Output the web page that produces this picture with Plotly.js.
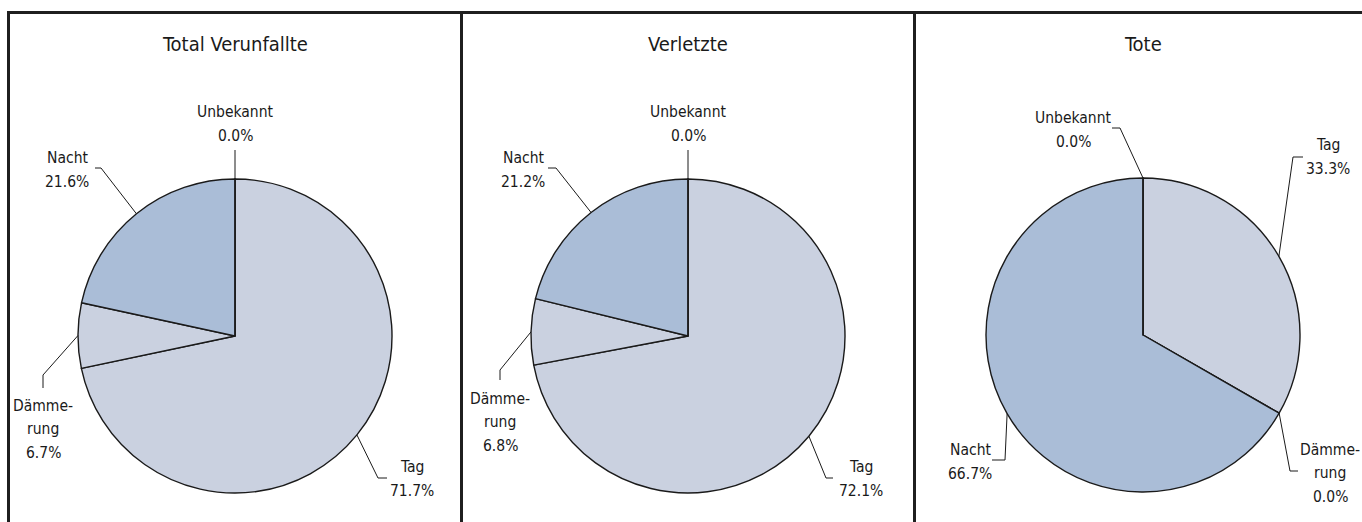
<!DOCTYPE html>
<html>
<head>
<meta charset="utf-8">
<script src="https://cdn.plot.ly/plotly-3.0.1.min.js"></script>
<style>html,body{margin:0;padding:0;background:#fff;}#chart{width:1362px;height:522px;}</style>
</head>
<body>
<div id="chart"></div>
<script>
// ---------- DATA ----------
const categories = ['Tag', 'Dämmerung', 'Nacht', 'Unbekannt'];
const categoryLines = [['Tag'], ['Dämme-', 'rung'], ['Nacht'], ['Unbekannt']];
const panelTitles = ['Total Verunfallte', 'Verletzte', 'Tote'];
const totalVerunfallte = [71.7, 6.7, 21.6, 0.0];
const verletzte = [72.1, 6.8, 21.2, 0.0];
const tote = [33.3, 0.0, 66.7, 0.0];

// ---------- LAYOUT / STYLE ----------
const W = 1362, H = 522, R = 157;
const FONT = 'DejaVu Sans Condensed, Liberation Sans Narrow, sans-serif';
const LABEL_SIZE = 15.5, TITLE_SIZE = 20, LINE_GAP = 23.5;
const sliceColors = ['#cad1e0', '#cad1e0', '#aabdd7', '#cad1e0'];
const panels = [
  {values: totalVerunfallte, cx: 235, cy: 336},
  {values: verletzte, cx: 688, cy: 336},
  {values: tote, cx: 1143, cy: 335}
];
// label placement (px offsets from pie centre): text centre t, elbow e, stub end h
const labelPlacement = [
  [ {t:[177,143], e:[143,142], h:[152,142]},
    {t:[-192,93], e:[-192,39], h:[-192,52]},
    {t:[-168,-166], e:[-134,-168], h:[-140,-168]},
    {t:[0,-212], e:[0,-186], h:[0,-186]} ],
  [ {t:[173,143], e:[138,142], h:[145,142]},
    {t:[-188,86], e:[-188,34], h:[-188,44]},
    {t:[-165,-166], e:[-132,-168], h:[-140,-168]},
    {t:[0,-212], e:[0,-186], h:[0,-186]} ],
  [ {t:[185,-178], e:[150,-178], h:[160,-178]},
    {t:[187,138], e:[147,136], h:[155,136]},
    {t:[-173,127], e:[-138,125], h:[-151,125]},
    {t:[-70,-205], e:[-23,-207], h:[-31,-207]} ]
];

const px = x => x / W;
const py = y => 1 - y / H;

const traces = [];
const annotations = [];
const shapes = [];

panels.forEach((p, i) => {
  traces.push({
    type: 'pie',
    labels: categories,
    values: p.values,
    sort: false,
    direction: 'clockwise',
    rotation: 0,
    textinfo: 'none',
    hoverinfo: 'label+percent',
    marker: {colors: sliceColors, line: {color: '#1a1a1a', width: 1.4}},
    domain: {x: [px(p.cx - R), px(p.cx + R)], y: [py(p.cy + R), py(p.cy - R)]},
    showlegend: false
  });
  annotations.push({
    xref: 'paper', yref: 'paper', x: px(p.cx), y: py(44),
    text: panelTitles[i], showarrow: false, xanchor: 'center', yanchor: 'middle',
    font: {family: FONT, size: TITLE_SIZE, color: '#1a1a1a'}
  });
  const total = p.values.reduce((a, b) => a + b, 0);
  let cum = 0;
  p.values.forEach((v, k) => {
    const mid = (cum + v / 2) / total * 2 * Math.PI;
    cum += v;
    const ax = p.cx + R * Math.sin(mid);
    const ay = p.cy - R * Math.cos(mid);
    const L = labelPlacement[i][k];
    const lines = categoryLines[k].concat([v.toFixed(1) + '%']);
    lines.forEach((ln, j) => {
      annotations.push({
        xref: 'paper', yref: 'paper',
        x: px(p.cx + L.t[0]),
        y: py(p.cy + L.t[1] + (j - (lines.length - 1) / 2) * LINE_GAP),
        text: ln, showarrow: false, xanchor: 'center', yanchor: 'middle', align: 'center',
        font: {family: FONT, size: LABEL_SIZE, color: '#1a1a1a'}
      });
    });
    shapes.push({
      type: 'path', xref: 'paper', yref: 'paper',
      path: 'M' + px(ax) + ',' + py(ay) +
            ' L' + px(p.cx + L.e[0]) + ',' + py(p.cy + L.e[1]) +
            ' L' + px(p.cx + L.h[0]) + ',' + py(p.cy + L.h[1]),
      line: {color: '#1a1a1a', width: 1}
    });
  });
});

// frame
const frameLine = {color: '#1f1f1f', width: 3};
shapes.push({type: 'line', xref: 'paper', yref: 'paper', x0: px(7), x1: 1, y0: py(12.5), y1: py(12.5), line: frameLine});
shapes.push({type: 'line', xref: 'paper', yref: 'paper', x0: px(8.5), x1: px(8.5), y0: py(11), y1: 0, line: frameLine});
shapes.push({type: 'line', xref: 'paper', yref: 'paper', x0: px(461.5), x1: px(461.5), y0: py(11), y1: 0, line: frameLine});
shapes.push({type: 'line', xref: 'paper', yref: 'paper', x0: px(914.5), x1: px(914.5), y0: py(11), y1: 0, line: frameLine});

Plotly.newPlot('chart', traces, {
  width: W, height: H,
  margin: {l: 0, r: 0, t: 0, b: 0},
  paper_bgcolor: '#ffffff',
  showlegend: false,
  annotations: annotations,
  shapes: shapes
}, {displayModeBar: false, staticPlot: true});
</script>
</body>
</html>
